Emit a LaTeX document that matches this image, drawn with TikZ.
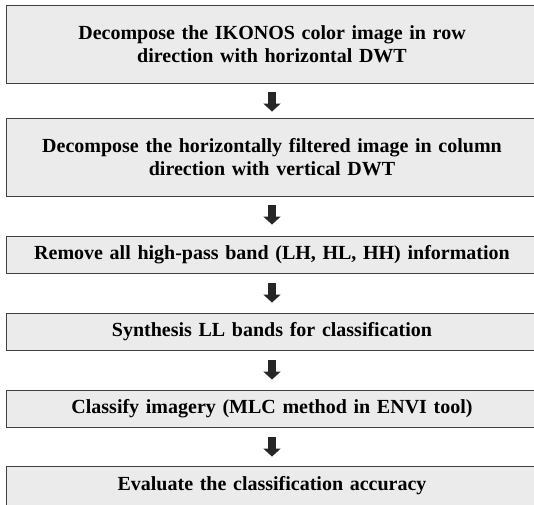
\documentclass[tikz,border=0pt]{standalone}
\usepackage{fontspec}
\setmainfont{Liberation Serif}
\usetikzlibrary{arrows.meta}
\tikzset{
  stepbox/.style={draw=black!75, line width=0.9pt, fill=gray!16, minimum width=532pt,
    text width=525pt, align=center, inner sep=0pt, font=\bfseries\fontsize{20}{22.5}\selectfont},
  blockarrow/.style={draw=black!85, line width=8pt,
    -{Triangle[width=17pt,length=8pt]}}
}
\begin{document}
\begin{tikzpicture}[x=1pt,y=1pt]
\useasboundingbox (0,0) rectangle (534,-504);
\node[stepbox, minimum height=78pt] (b1) at (272,-44) {Decompose the IKONOS color image in row\\direction with horizontal DWT};
\node[stepbox, minimum height=78pt] (b2) at (272,-157) {Decompose the horizontally filtered image in column\\direction with vertical DWT};
\node[stepbox, minimum height=37pt] (b3) at (272,-254.5) {Remove all high-pass band (LH, HL, HH) information};
\node[stepbox, minimum height=37pt] (b4) at (272,-331.5) {Synthesis LL bands for classification};
\node[stepbox, minimum height=37pt] (b5) at (272,-408.5) {Classify imagery (MLC method in ENVI tool)};
\node[stepbox, minimum height=40pt] (b6) at (272,-486) {Evaluate the classification accuracy};
\draw[blockarrow, shorten <=9pt, shorten >=6pt] (b1.south) -- (b2.north);
\draw[blockarrow, shorten <=9pt, shorten >=11pt] (b2.south) -- (b3.north);
\draw[blockarrow, shorten <=10pt, shorten >=10pt] (b3.south) -- (b4.north);
\draw[blockarrow, shorten <=10pt, shorten >=10pt] (b4.south) -- (b5.north);
\draw[blockarrow, shorten <=10pt, shorten >=9pt] (b5.south) -- (b6.north);
\end{tikzpicture}
\end{document}
